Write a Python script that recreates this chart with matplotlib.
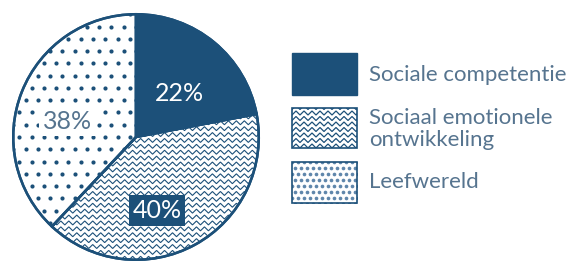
import numpy as np
import matplotlib.pyplot as plt
from matplotlib.patches import Rectangle, Wedge

labels = ["Sociale competentie", "Sociaal emotionele\nontwikkeling", "Leefwereld"]
shares = [22, 40, 38]

navy = "#1c5079"
textc = "#56748f"
plt.rcParams['font.family'] = ['Lato', 'DejaVu Sans']


def zigzag(ax, xr, yr, per, amp, gap, clip, lw=0.9):
    xs = np.arange(xr[0], xr[1] + per, per / 2)
    offs = np.where(np.arange(len(xs)) % 2 == 0, 0, amp)
    for y in np.arange(yr[0], yr[1], gap):
        ln, = ax.plot(xs, y + offs, color=navy, lw=lw, solid_joinstyle='miter')
        ln.set_clip_path(clip)


def dots(ax, xr, yr, step, size, clip, color=navy):
    for i, y in enumerate(np.arange(yr[0], yr[1], step)):
        xs = np.arange(xr[0] + (step / 2) * (i % 2), xr[1], step)
        sc = ax.scatter(xs, np.full_like(xs, y), s=size, color=color, lw=0)
        sc.set_clip_path(clip)


fig = plt.figure(figsize=(5.8, 2.61), dpi=100)

# pie
ax = fig.add_axes([12 / 580, 0, 248 / 580, 248 / 261])
wedges, _ = ax.pie(shares, startangle=90, counterclock=False,
                   colors=[navy, "white", "white"],
                   wedgeprops=dict(edgecolor=navy, linewidth=1.8))
ax.set_xlim(-1.01, 1.01)
ax.set_ylim(-1.01, 1.01)

zigzag(ax, (-1.1, 1.1), (-1.1, 1.1), 0.065, 0.032, 0.048, wedges[1], lw=0.8)
dots(ax, (-1.1, 1.1), (-1.1, 1.1), 0.1, 9, wedges[2])
for w in wedges:
    w.set_zorder(1)
    ax.add_patch(Wedge(w.center, w.r, w.theta1, w.theta2,
                       fill=False, edgecolor=navy, lw=1.8, zorder=5))

ax.text(0.35, 0.355, f"{shares[0]}%", color="white", fontsize=18,
        ha="center", va="center", zorder=6)
ax.text(0.17, -0.6, f"{shares[1]}%", color="white", fontsize=18,
        ha="center", va="center", zorder=6,
        bbox=dict(boxstyle="square,pad=0.15", fc=navy, ec="none"))
ax.text(-0.556, 0.13, f"{shares[2]}%", color=textc, fontsize=18,
        ha="center", va="center", zorder=6,
        bbox=dict(boxstyle="square,pad=0.15", fc="white", ec="none"))

# legend
lax = fig.add_axes([0, 0, 1, 1])
lax.set_xlim(0, 580)
lax.set_ylim(261, 0)
lax.axis("off")

boxes = [(292, 53, 42), (292, 108, 40), (292, 162, 41)]
text_y = [75, 129, 182]
for i, (x, y, h) in enumerate(boxes):
    if i == 0:
        lax.add_patch(Rectangle((x, y), 65, h, fc=navy, ec=navy, lw=1))
    else:
        lax.add_patch(Rectangle((x, y), 65, h, ec=navy, lw=1.2, zorder=3, fill=False))
        clip = Rectangle((x, y), 65, h, transform=lax.transData)
        if i == 1:
            zigzag(lax, (x, x + 70), (y - 4, y + h + 4), 8, -4, 5.5, clip)
        else:
            dots(lax, (x, x + 70), (y, y + h + 4), 6, 7, clip, color="#5f86ab")
    lax.text(369, text_y[i], labels[i], color=textc, fontsize=16,
             ha="left", va="center", linespacing=1.1)

fig.savefig("out.png", dpi=100)
